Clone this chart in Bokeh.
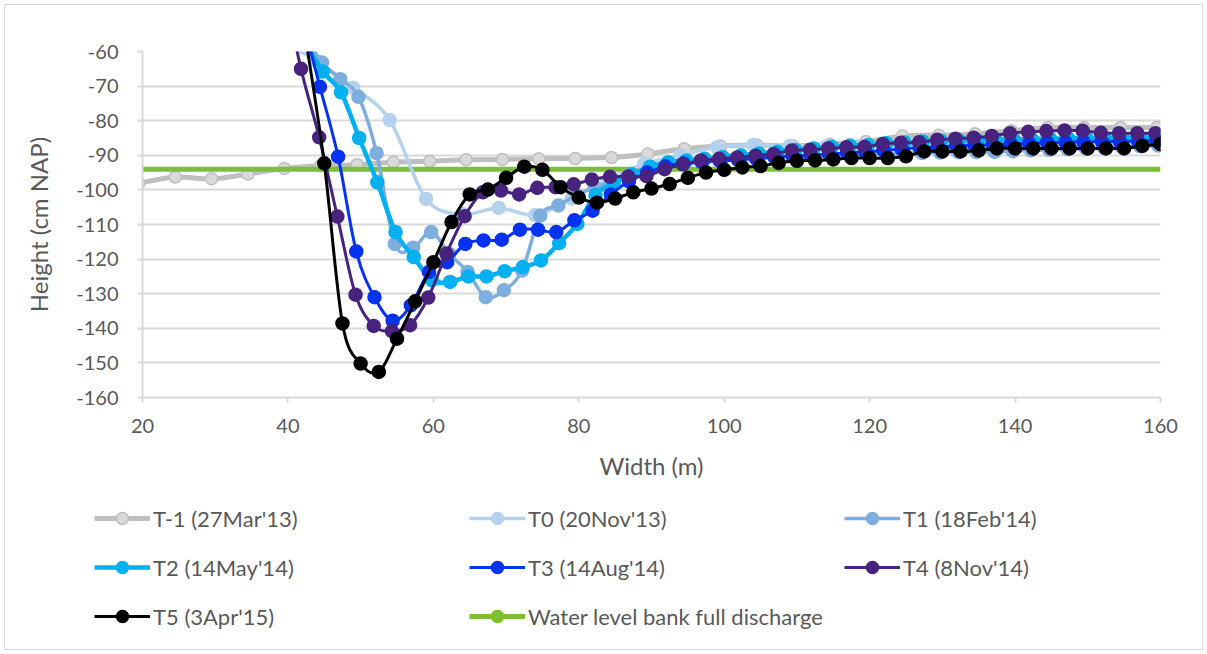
from bokeh.plotting import figure
from bokeh.layouts import column
from bokeh.models import Range1d, FixedTicker, Legend, LegendItem, PrintfTickFormatter
from bokeh.embed import file_html
from bokeh.resources import INLINE

# ---------------- data ----------------
x_tm1 = [19.5, 24.5, 29.5, 34.5, 39.5, 44.5, 49.5, 54.5, 59.5, 64.5, 69.5, 74.5, 79.5, 84.5,
         89.5, 94.5, 99.5, 104.5, 109.5, 114.5, 119.5, 124.5, 129.5, 134.5, 139.5, 144.5,
         149.5, 154.5, 159.5]
y_tm1 = [-98.1, -96.3, -96.8, -95.4, -93.8, -93.0, -92.7, -92.0, -91.7, -91.3, -91.2, -91.0,
         -90.9, -90.6, -89.6, -88.1, -87.3, -87.0, -87.3, -86.8, -86.0, -84.4, -84.2, -83.8,
         -82.9, -82.0, -82.0, -82.0, -82.0]

x_t0 = [39, 44, 49, 54, 59, 64, 69, 74, 79, 84, 89, 94, 99, 104, 109, 114, 119, 124, 129,
        134, 139, 144, 149, 154, 159]
y_t0 = [-57.0, -62.8, -70.5, -79.8, -102.6, -107.0, -105.2, -107.3, -102.5, -97.0, -92.5,
        -90.0, -87.7, -87.0, -87.3, -87.5, -87.3, -87.0, -86.8, -86.5, -86.3, -86.0, -85.8,
        -85.5, -85.3]

x_t1 = [42.2, 44.7, 47.2, 49.7, 52.2, 54.7, 57.2, 59.7, 62.2, 64.7, 67.2, 69.7, 72.2, 74.7,
        77.2, 79.7, 82.2, 84.7, 87.2, 89.7, 92.2, 94.7, 97.2, 99.7, 102.2, 104.7, 107.2,
        109.7, 112.2, 114.7, 117.2, 119.7, 122.2, 124.7, 127.2, 129.7, 132.2, 134.7, 137.2,
        139.7, 142.2, 144.7, 147.2, 149.7, 152.2, 154.7, 157.2, 159.7]
y_t1 = [-55.0, -63.2, -68.0, -73.1, -89.4, -115.6, -116.7, -112.2, -118.5, -123.7, -131.0,
        -129.0, -123.3, -107.4, -104.5, -101.5, -99.3, -97.5, -95.5, -93.8, -92.5, -91.8,
        -91.3, -91.0, -90.8, -90.6, -90.4, -90.2, -90.0, -89.9, -89.8, -89.6, -89.5, -89.4,
        -89.3, -89.2, -89.1, -89.1, -89.0, -88.8, -88.6, -88.4, -88.2, -88.0, -87.8, -87.6,
        -87.4, -87.2]

x_t2 = [42.3, 44.8, 47.3, 49.8, 52.3, 54.8, 57.3, 59.8, 62.3, 64.8, 67.3, 69.8, 72.3, 74.8,
        77.3, 79.8, 82.3, 84.8, 87.3, 89.8, 92.3, 94.8, 97.3, 99.8, 102.3, 104.8, 107.3,
        109.8, 112.3, 114.8, 117.3, 119.8, 122.3, 124.8, 127.3, 129.8, 132.3, 134.8, 137.3,
        139.8, 142.3, 144.8, 147.3, 149.8, 152.3, 154.8, 157.3, 159.8]
y_t2 = [-57.0, -65.8, -71.8, -85.0, -97.8, -112.2, -119.4, -126.1, -126.6, -125.0, -125.0,
        -123.5, -122.3, -120.4, -115.4, -109.8, -101.5, -98.0, -95.5, -93.3, -92.0, -91.5,
        -91.0, -90.5, -90.0, -89.5, -89.0, -88.5, -88.0, -87.5, -87.2, -87.0, -86.5, -86.2,
        -86.0, -85.8, -85.7, -85.6, -85.5, -85.4, -85.3, -85.2, -85.1, -85.0, -85.0, -85.0,
        -85.0, -85.0]

x_t3 = [41.9, 44.4, 46.9, 49.4, 51.9, 54.4, 56.9, 59.4, 61.9, 64.4, 66.9, 69.4, 71.9, 74.4,
        76.9, 79.4, 81.9, 84.4, 86.9, 89.4, 91.9, 94.4, 96.9, 99.4, 101.9, 104.4, 106.9,
        109.4, 111.9, 114.4, 116.9, 119.4, 121.9, 124.4, 126.9, 129.4, 131.9, 134.4, 136.9,
        139.4, 141.9, 144.4, 146.9, 149.4, 151.9, 154.4, 156.9, 159.4]
y_t3 = [-50.0, -70.2, -90.4, -117.8, -131.0, -137.8, -133.4, -123.7, -120.9, -115.6, -114.6,
        -114.4, -111.5, -111.5, -112.2, -108.8, -106.0, -101.3, -97.5, -95.0, -93.2, -92.4,
        -92.0, -91.6, -91.3, -91.0, -90.5, -90.2, -89.9, -89.6, -89.3, -89.0, -88.6, -88.2,
        -87.8, -87.5, -87.3, -87.1, -86.9, -86.7, -86.5, -86.3, -86.2, -86.1, -86.0, -86.0,
        -85.9, -85.8]

x_t4 = [39.3, 41.8, 44.3, 46.8, 49.3, 51.8, 54.3, 56.8, 59.3, 61.8, 64.3, 66.8, 69.3, 71.8,
        74.3, 76.8, 79.3, 81.8, 84.3, 86.8, 89.3, 91.8, 94.3, 96.8, 99.3, 101.8, 104.3,
        106.8, 109.3, 111.8, 114.3, 116.8, 119.3, 121.8, 124.3, 126.8, 129.3, 131.8, 134.3,
        136.8, 139.3, 141.8, 144.3, 146.8, 149.3, 151.8, 154.3, 156.8, 159.3]
y_t4 = [-40.0, -65.0, -84.8, -107.7, -130.3, -139.3, -140.8, -139.1, -131.1, -118.4, -107.6,
        -100.7, -100.2, -101.3, -99.4, -99.2, -98.4, -97.0, -96.2, -96.1, -96.0, -94.0, -92.6,
        -91.5, -91.0, -90.6, -90.1, -89.6, -88.6, -88.4, -88.0, -87.7, -87.6, -86.7, -86.4,
        -86.2, -85.5, -85.2, -84.9, -84.4, -83.6, -83.2, -83.0, -82.8, -82.9, -83.5, -83.6,
        -83.6, -83.6]

x_t5 = [42.5, 45.0, 47.5, 50.0, 52.5, 55.0, 57.5, 60.0, 62.5, 65.0, 67.5, 70.0, 72.5, 75.0,
        77.5, 80.0, 82.5, 85.0, 87.5, 90.0, 92.5, 95.0, 97.5, 100.0, 102.5, 105.0, 107.5,
        110.0, 112.5, 115.0, 117.5, 120.0, 122.5, 125.0, 127.5, 130.0, 132.5, 135.0, 137.5,
        140.0, 142.5, 145.0, 147.5, 150.0, 152.5, 155.0, 157.5, 160.0]
y_t5 = [-57.0, -92.3, -138.6, -150.2, -152.6, -143.0, -132.2, -120.9, -109.3, -101.3, -99.9,
        -96.5, -93.3, -94.2, -99.2, -102.2, -103.7, -102.5, -100.7, -99.6, -98.3, -96.5, -95.0,
        -94.2, -93.5, -93.1, -92.2, -91.6, -91.5, -91.2, -90.8, -90.8, -90.8, -90.3, -88.9,
        -88.9, -88.9, -88.6, -88.0, -88.0, -88.0, -88.0, -88.0, -88.0, -88.0, -88.0, -87.3,
        -86.8]

x_water = [20, 160]
y_water = [-94, -94]

labels = ["T-1 (27Mar'13)", "T0 (20Nov'13)", "T1 (18Feb'14)", "T2 (14May'14)",
          "T3 (14Aug'14)", "T4 (8Nov'14)", "T5 (3Apr'15)", "Water level bank full discharge"]

x_ticks = [20, 40, 60, 80, 100, 120, 140, 160]
y_ticks = [-160, -150, -140, -130, -120, -110, -100, -90, -80, -70, -60]

# ---------------- styles ----------------
# line color, line width, marker fill, marker outline, marker size
styles = {
    0: ("#BFBFBF", 5, "#D9D9D9", "#BFBFBF", 12),
    1: ("#B4D2EE", 3.5, "#B4D2EE", "#B4D2EE", 13),
    2: ("#7EAEDD", 3.5, "#7EAEDD", "#7EAEDD", 13),
    3: ("#00B0F0", 4.5, "#00B0F0", "#00B0F0", 13),
    4: ("#0432F0", 3, "#0432F0", "#0432F0", 13),
    5: ("#47237F", 3, "#47237F", "#47237F", 13),
    6: ("#000000", 3, "#000000", "#000000", 13),
    7: ("#7DBE38", 5, "#7DBE38", "#7DBE38", 13),
}

FONT = "Lato"
TXT = "#595959"
GRID = "#D9D9D9"


def smooth_segments(xs, ys):
    """Cubic Bezier control points (Catmull-Rom style) through the data points."""
    n = len(xs)
    x0, y0, x1, y1, cx0, cy0, cx1, cy1 = [], [], [], [], [], [], [], []
    for i in range(n - 1):
        ip = max(i - 1, 0)
        inn = min(i + 2, n - 1)
        x0.append(xs[i]); y0.append(ys[i])
        x1.append(xs[i + 1]); y1.append(ys[i + 1])
        cx0.append(xs[i] + (xs[i + 1] - xs[ip]) / 6.0)
        cy0.append(ys[i] + (ys[i + 1] - ys[ip]) / 6.0)
        cx1.append(xs[i + 1] - (xs[inn] - xs[i]) / 6.0)
        cy1.append(ys[i + 1] - (ys[inn] - ys[i]) / 6.0)
    return dict(x0=x0, y0=y0, x1=x1, y1=y1, cx0=cx0, cy0=cy0, cx1=cx1, cy1=cy1)


# ---------------- main chart ----------------
p = figure(width=1197, height=490, output_backend="svg", toolbar_location=None,
           x_range=Range1d(20, 160), y_range=Range1d(-160, -60),
           min_border_left=137, min_border_right=42, min_border_top=46, min_border_bottom=98)
p.frame_align = False
p.outline_line_color = None
p.background_fill_color = "white"
p.border_fill_color = "white"

p.xgrid.visible = False
p.ygrid.grid_line_color = GRID
p.ygrid.grid_line_width = 2
p.xaxis.ticker = FixedTicker(ticks=x_ticks)
p.yaxis.ticker = FixedTicker(ticks=y_ticks)
p.xaxis.formatter = PrintfTickFormatter(format="%d")
p.yaxis.formatter = PrintfTickFormatter(format="%d")

for ax in (p.xaxis[0], p.yaxis[0]):
    ax.axis_line_color = GRID
    ax.axis_line_width = 2
    ax.major_tick_line_color = GRID
    ax.major_tick_line_width = 2
    ax.major_tick_in = 0
    ax.major_tick_out = 5
    ax.minor_tick_line_color = None
    ax.major_label_text_font = FONT
    ax.major_label_text_font_size = "20px"
    ax.major_label_text_color = TXT
    ax.axis_label_text_font = FONT
    ax.axis_label_text_font_size = "24px"
    ax.axis_label_text_font_style = "normal"
    ax.axis_label_text_color = TXT

p.xaxis.axis_label = "Width (m)"
p.yaxis.axis_label = "Height (cm NAP)"
p.xaxis.major_label_standoff = 16
p.xaxis.axis_label_standoff = 15
p.yaxis.major_label_standoff = 19
p.yaxis.axis_label_standoff = 20

data = {0: (x_tm1, y_tm1), 1: (x_t0, y_t0), 2: (x_t1, y_t1), 3: (x_t2, y_t2),
        4: (x_t3, y_t3), 5: (x_t4, y_t4), 6: (x_t5, y_t5), 7: (x_water, y_water)}
order = [0, 7, 1, 2, 3, 4, 5, 6]

for idx in order:
    xs, ys = data[idx]
    lc, lw, mf, mo, ms = styles[idx]
    if idx == 7:
        p.line(xs, ys, line_color=lc, line_width=lw)
        continue
    p.bezier(line_color=lc, line_width=lw, source=smooth_segments(xs, ys),
             x0="x0", y0="y0", x1="x1", y1="y1", cx0="cx0", cy0="cy0", cx1="cx1", cy1="cy1")
    p.scatter(xs, ys, size=ms, fill_color=mf, line_color=mo, line_width=1.5)

# ---------------- legend panel ----------------
# The series are drawn again here only to feed the legend; the view range keeps them out of sight.
q = figure(width=1197, height=154, output_backend="svg", toolbar_location=None,
           x_range=Range1d(0, 1), y_range=Range1d(0, 1), x_axis_type=None, y_axis_type=None,
           min_border=0)
q.frame_align = False
q.outline_line_color = None
q.grid.visible = False
q.border_fill_color = "white"

items = []
for idx in range(8):
    xs, ys = data[idx]
    lc, lw, mf, mo, ms = styles[idx]
    lr = q.line(xs, ys, line_color=lc, line_width=lw)
    sr = q.scatter(xs, ys, size=ms, fill_color=mf, line_color=mo, line_width=1.5)
    items.append(LegendItem(label=labels[idx], renderers=[lr, sr]))

legend = Legend(items=items, location=(89, 18), orientation="horizontal", ncols=3,
                glyph_width=56, glyph_height=30, label_height=30, label_width=297,
                label_standoff=3, spacing=19, padding=0, margin=0,
                border_line_color=None, background_fill_alpha=0,
                label_text_font=FONT, label_text_font_size="22px", label_text_color=TXT)
q.add_layout(legend, "center")

layout = column(p, q, spacing=0,
                styles={"border": "1px solid #D9D9D9", "margin": "4px"})

open("out.html", "w").write(file_html(layout, INLINE))
